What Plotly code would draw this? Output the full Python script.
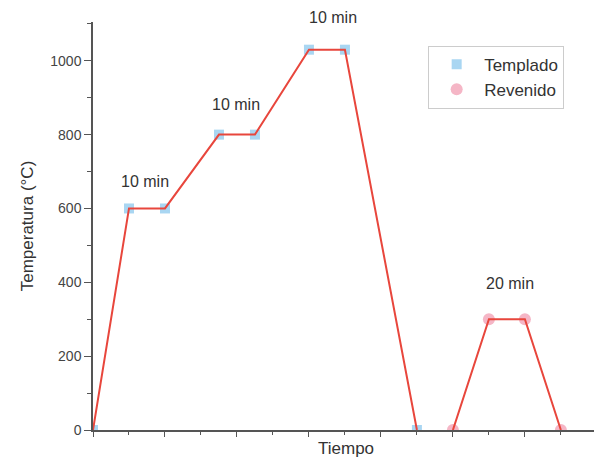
import plotly.graph_objects as go

# Data
templado_x = [0, 1, 2, 3.5, 4.5, 6, 7, 9]
templado_y = [0, 600, 600, 800, 800, 1030, 1030, 0]
revenido_x = [10, 11, 12, 13]
revenido_y = [0, 300, 300, 0]
label_text = ["10 min", "10 min", "10 min", "20 min"]
label_x = [1.44, 3.97, 6.67, 11.58]
label_y = [672, 881, 1116, 398]

Y_MAX = 1105
X_MAX = 13.92
line_color = "#e8463c"
FONT = "Liberation Sans, Arial"

fig = go.Figure()
fig.add_trace(go.Scatter(x=templado_x, y=templado_y, mode="markers", name="Templado",
                         marker=dict(symbol="square", size=10, color="#a9d6f2")))
fig.add_trace(go.Scatter(x=revenido_x, y=revenido_y, mode="markers", name="Revenido",
                         marker=dict(symbol="circle", size=12, color="#f5b6c6")))
fig.add_trace(go.Scatter(x=templado_x, y=templado_y, mode="lines", showlegend=False,
                         line=dict(color=line_color, width=2)))
fig.add_trace(go.Scatter(x=revenido_x, y=revenido_y, mode="lines", showlegend=False,
                         line=dict(color=line_color, width=2)))

for t, x, y in zip(label_text, label_x, label_y):
    fig.add_annotation(x=x, xref="x", y=y / Y_MAX, yref="paper", text=t, showarrow=False,
                       xanchor="center", yanchor="middle",
                       font=dict(family=FONT, size=16, color="#333333"))

fig.add_annotation(x=7.03, xref="x", y=0, yref="paper", text="Tiempo", showarrow=False,
                   xanchor="center", yanchor="middle", yshift=-18,
                   font=dict(family=FONT, size=17, color="#333333"))

fig.update_layout(
    width=594, height=460,
    margin=dict(l=93, r=0, t=22, b=30),
    paper_bgcolor="white", plot_bgcolor="white",
    font=dict(family=FONT, color="#444444"),
    legend=dict(x=0.669, y=0.942, xanchor="left", yanchor="top",
                bordercolor="#cccccc", borderwidth=1, tracegroupgap=0,
                font=dict(size=17, color="#333333"), itemwidth=45),
    xaxis=dict(range=[0, X_MAX], showgrid=False, zeroline=False, showline=True,
               linecolor="#555555", linewidth=1.5, showticklabels=False,
               ticks="outside", tick0=0, dtick=2, ticklen=5, tickcolor="#555555",
               minor=dict(ticks="outside", dtick=1, ticklen=3, tickcolor="#555555")),
    yaxis=dict(range=[0, Y_MAX], showgrid=False, zeroline=False, showline=True,
               linecolor="#555555", linewidth=1.5, tick0=0, dtick=200,
               ticks="outside", ticklen=7, tickcolor="#555555",
               tickfont=dict(size=14, color="#444444"),
               minor=dict(ticks="outside", dtick=100, ticklen=4, tickcolor="#555555"),
               title=dict(text="Temperatura (°C)", font=dict(size=17, color="#333333"),
                          standoff=12)),
)
fig.write_html("out.html")
